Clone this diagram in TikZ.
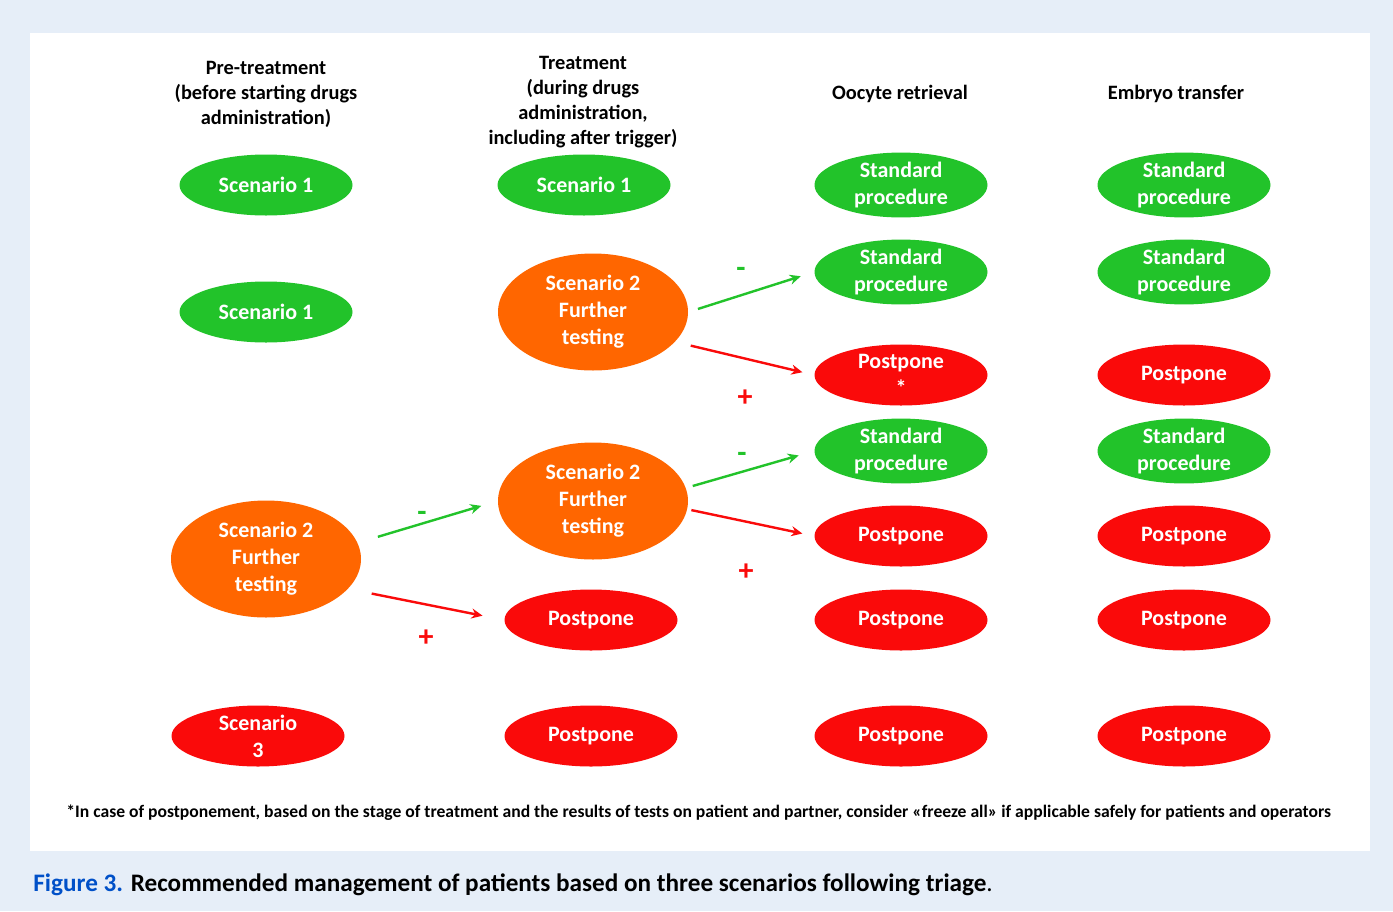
\documentclass[tikz,border=0pt]{standalone}
\usepackage{fontspec}
\setmainfont{Carlito}
\usetikzlibrary{shapes.geometric,arrows.meta}
\definecolor{scgreen}{RGB}{34,195,42}
\definecolor{scorange}{RGB}{255,102,0}
\definecolor{scred}{RGB}{250,10,10}
\definecolor{pagebg}{RGB}{230,238,248}
\definecolor{figblue}{RGB}{0,80,200}
\begin{document}
\begin{tikzpicture}[x=0.5pt,y=-0.5pt,
  oval/.style={ellipse,inner sep=0pt,minimum width=86.5pt,minimum height=30.5pt,
    text=white,align=center,font=\fontsize{11}{13.5}\selectfont\bfseries},
  okoval/.style={oval,fill=scgreen},
  stopoval/.style={oval,fill=scred},
  testoval/.style={oval,fill=scorange,minimum width=95pt,minimum height=58.5pt},
  head/.style={align=center,font=\fontsize{10.2}{12.5}\selectfont\bfseries},
  negarrow/.style={draw=scgreen,line width=1.2pt,-{Stealth[length=5.5pt,width=5pt]}},
  posarrow/.style={negarrow,draw=scred},
  sign/.style={font=\fontsize{15}{15}\selectfont\bfseries}]
\fill[pagebg] (0,0) rectangle (1393,911);
\fill[white] (30,33) rectangle (1370,851);
\useasboundingbox (0,0) rectangle (1393,911);

% column heads
\node[head] (hpre) at (266,94) {Pre-treatment\\(before starting drugs\\administration)};
\node[head] (htrt) at (583,102) {Treatment\\(during drugs\\administration,\\including after trigger)};
\node[head] (hret) at (900,94) {Oocyte retrieval};
\node[head] (hemb) at (1176,94) {Embryo transfer};

% pre-treatment
\node[okoval] (pre1) at (266,185) {Scenario 1};
\node[okoval] (pre2) at (266,312) {Scenario 1};
\node[testoval] (pre3) at (266,559) {Scenario 2\\Further\\testing};
\node[stopoval] (pre4) at (258,736) {Scenario\\3};

% treatment
\node[okoval] (trt1) at (584,185) {Scenario 1};
\node[testoval] (trt2) at (593,312) {Scenario 2\\Further\\testing};
\node[testoval] (trt3) at (593,501) {Scenario 2\\Further\\testing};
\node[stopoval] (trt4) at (591,620) {Postpone};
\node[stopoval] (trt5) at (591,736) {Postpone};

% oocyte retrieval
\node[okoval] (ret1) at (901,185) {Standard\\procedure};
\node[okoval] (ret2) at (901,272) {Standard\\procedure};
\node[stopoval] (ret3) at (901,375) {Postpone\\*};
\node[okoval] (ret4) at (901,451) {Standard\\procedure};
\node[stopoval] (ret5) at (901,536) {Postpone};
\node[stopoval] (ret6) at (901,620) {Postpone};
\node[stopoval] (ret7) at (901,736) {Postpone};

% embryo transfer
\node[okoval] (emb1) at (1184,185) {Standard\\procedure};
\node[okoval] (emb2) at (1184,272) {Standard\\procedure};
\node[stopoval] (emb3) at (1184,375) {Postpone};
\node[okoval] (emb4) at (1184,451) {Standard\\procedure};
\node[stopoval] (emb5) at (1184,536) {Postpone};
\node[stopoval] (emb6) at (1184,620) {Postpone};
\node[stopoval] (emb7) at (1184,736) {Postpone};

% test results
\draw[negarrow,shorten <=5pt,shorten >=7pt] (trt2.east) -- (ret2.west);
\draw[posarrow,shorten <=8pt,shorten >=6pt] (trt2.-20) -- (ret3.west);
\draw[negarrow,shorten <=3.5pt,shorten >=8pt] (trt3.8) -- (ret4.west);
\draw[posarrow,shorten <=2pt,shorten >=6pt] (trt3.-5) -- (ret5.west);
\draw[negarrow,shorten <=10.5pt,shorten >=8.5pt] (pre3.10) -- (trt3.west);
\draw[posarrow,shorten <=12pt,shorten >=11pt] (pre3.-20) -- (trt4.west);
\node[sign,text=scgreen] (neg1) at (741,272) {-};
\node[sign,text=scred] (pos1) at (745,398) {+};
\node[sign,text=scgreen] (neg2) at (742,457) {-};
\node[sign,text=scred] (pos2) at (746,572) {+};
\node[sign,text=scgreen] (neg3) at (422,516) {-};
\node[sign,text=scred] (pos3) at (426,638) {+};

% footnote and caption
\node[anchor=west,inner sep=0pt,font=\fontsize{8.8}{10}\selectfont\bfseries] (note) at (66,813)
  {*In case of postponement, based on the stage of treatment and the results of tests on patient and partner, consider «freeze all» if applicable safely for patients and operators};
\node[anchor=west,inner sep=0pt,font=\fontsize{12.6}{14}\selectfont] (cap) at (33,885)
  {\textcolor{figblue}{\bfseries Figure 3.} \textbf{Recommended management of patients based on three scenarios following triage}.};
\end{tikzpicture}
\end{document}
